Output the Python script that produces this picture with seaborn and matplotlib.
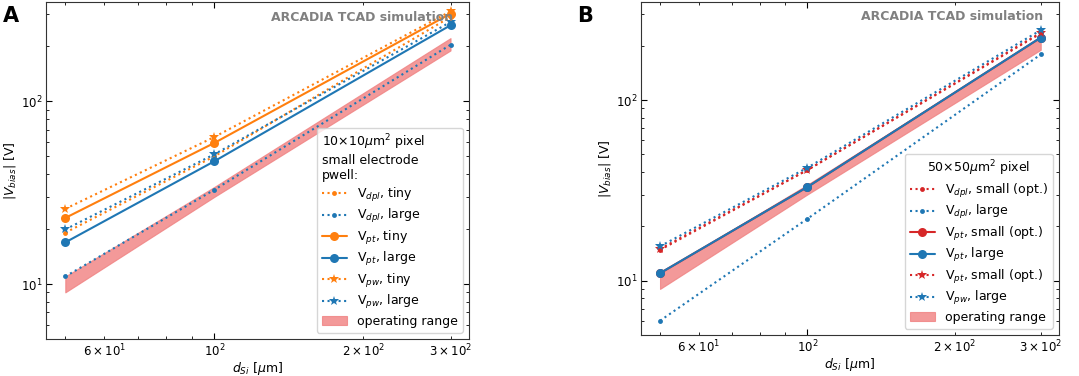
import numpy as np
import pandas as pd
import matplotlib
matplotlib.use("Agg")
import matplotlib.pyplot as plt
import seaborn as sns

sns.set_style("ticks")
plt.rcParams['font.family'] = ['DejaVu Sans']
plt.rcParams['mathtext.fontset'] = 'dejavusans'
plt.rcParams['text.color'] = 'black'
plt.rcParams['axes.labelcolor'] = 'black'
plt.rcParams['xtick.color'] = 'black'
plt.rcParams['ytick.color'] = 'black'
plt.rcParams['axes.edgecolor'] = '#333333'

# --- data ---
d_si = [50, 100, 300]

# panel A: 10x10 um^2 pixel
a_dpl_tiny = [19.1, 50.0, 290]
a_dpl_large = [11.0, 32.8, 204]
a_pt_tiny = [23.0, 59.2, 302]
a_pt_large = [16.9, 47.0, 261]
a_pw_tiny = [25.8, 63.8, 311]
a_pw_large = [19.9, 51.3, 272]

# panel B: 50x50 um^2 pixel
b_dpl_small = [14.8, 41.0, 234]
b_dpl_large = [6.0, 22.0, 179]
b_pt_small = [11.0, 33.0, 222]
b_pt_large = [11.0, 33.0, 222]
b_pw_small = [15.0, 41.0, 236]
b_pw_large = [15.5, 42.2, 244]

# operating range (same for both)
range_lo = [9.0, 30.0, 190]
range_hi = [11.0, 34.0, 222]

ORANGE = "tab:orange"
BLUE = "tab:blue"
RED = "tab:red"


def draw_series(ax, y, color, kind, label):
    if kind == "dpl":
        kw = dict(linestyle=":", marker="o", markersize=3.5)
    elif kind == "pt":
        kw = dict(linestyle="-", marker="o", markersize=6.5)
    else:
        kw = dict(linestyle=":", marker="*", markersize=7)
    sns.lineplot(x=d_si, y=y, ax=ax, color=color, label=label,
                 linewidth=1.5, markeredgewidth=0, **kw)


def style_axes(ax, title, left_title=False):
    ax.fill_between(d_si, range_lo, range_hi, color="#f08080", alpha=0.8,
                    linewidth=0.8, edgecolor="#f08080", label="operating range")
    ax.set_xscale("log")
    ax.set_yscale("log")
    ax.set_xlim(45.7, 327)
    ax.set_ylim(5.0, 350)
    ax.tick_params(which="both", direction="in", top=True, right=True,
                   labelsize=8.5, pad=2.5)
    ax.tick_params(which="major", length=4)
    ax.tick_params(which="minor", length=2)
    ax.set_xlabel(r"$d_{Si}$ [$\mu$m]", fontsize=9, labelpad=1)
    ax.set_ylabel(r"$|V_{bias}|$ [V]", fontsize=9, labelpad=2)
    ax.text(0.962, 0.955, "ARCADIA TCAD simulation", transform=ax.transAxes,
            ha="right", va="center", fontsize=9, fontweight="bold", color="grey")
    leg = ax.legend(loc="lower right", fontsize=9, title=title, title_fontsize=9,
                    labelspacing=0.28)
    if left_title:
        leg._legend_box.align = "left"


fig = plt.figure(figsize=(10.79, 3.76), dpi=100)
axA = fig.add_axes([0.0426, 0.0984, 0.3921, 0.8963])
axB = fig.add_axes([0.594, 0.109, 0.3875, 0.886])

# panel A
draw_series(axA, a_dpl_tiny, ORANGE, "dpl", r"V$_{dpl}$, tiny")
draw_series(axA, a_dpl_large, BLUE, "dpl", r"V$_{dpl}$, large")
draw_series(axA, a_pt_tiny, ORANGE, "pt", r"V$_{pt}$, tiny")
draw_series(axA, a_pt_large, BLUE, "pt", r"V$_{pt}$, large")
draw_series(axA, a_pw_tiny, ORANGE, "pw", r"V$_{pw}$, tiny")
draw_series(axA, a_pw_large, BLUE, "pw", r"V$_{pw}$, large")
style_axes(axA, "10\u00d710$\\mu$m$^2$ pixel\nsmall electrode\npwell:", left_title=True)

# panel B
draw_series(axB, b_dpl_small, RED, "dpl", r"V$_{dpl}$, small (opt.)")
draw_series(axB, b_dpl_large, BLUE, "dpl", r"V$_{dpl}$, large")
draw_series(axB, b_pt_small, RED, "pt", r"V$_{pt}$, small (opt.)")
draw_series(axB, b_pt_large, BLUE, "pt", r"V$_{pt}$, large")
draw_series(axB, b_pw_small, RED, "pw", r"V$_{pt}$, small (opt.)")
draw_series(axB, b_pw_large, BLUE, "pw", r"V$_{pw}$, large")
style_axes(axB, "50\u00d750$\\mu$m$^2$ pixel")

fig.text(0.003, 0.985, "A", fontsize=15, fontweight="bold", va="top", ha="left")
fig.text(0.535, 0.985, "B", fontsize=15, fontweight="bold", va="top", ha="left")

fig.savefig("out.png", dpi=100)
